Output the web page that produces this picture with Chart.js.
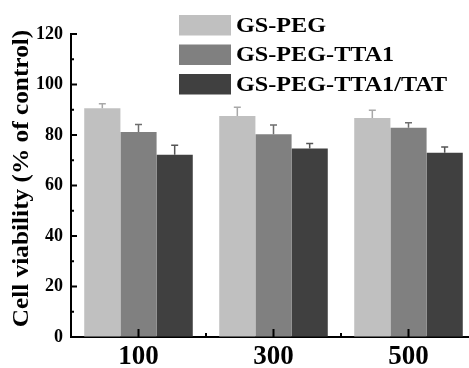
<!DOCTYPE html>
<html>
<head>
<meta charset="utf-8">
<script src="https://cdn.jsdelivr.net/npm/chart.js@4/dist/chart.umd.min.js"></script>
<style>
    html, body { margin: 0; padding: 0; background: #fff; overflow: hidden; }
    #wrap { width: 477px; height: 368px; }
</style>
</head>
<body>
<div id="wrap"><canvas id="viabilityChart" width="477" height="368"></canvas></div>
<script>
// Chart data
const concentrations = ['100', '300', '500'];
const seriesNames = ['GS-PEG', 'GS-PEG-TTA1', 'GS-PEG-TTA1/TAT'];
const gsPeg = [90.6, 87.5, 86.7];
const gsPegTta1 = [81.2, 80.3, 82.9];
const gsPegTta1Tat = [72.2, 74.7, 73.0];
const gsPegErr = [1.8, 3.5, 3.1];
const gsPegTta1Err = [3.0, 3.7, 2.0];
const gsPegTta1TatErr = [3.7, 1.9, 2.2];
const yTicks = [0, 20, 40, 60, 80, 100, 120];
const yTitle = 'Cell viability (% of control)';

const barColors = ['#c0c0c0', '#808080', '#404040'];
const errColors = ['#a8a8a8', '#6e6e6e', '#555555'];
const serif = '"Liberation Serif", "Times New Roman", serif';

/**
 * Upward-only error bars with small caps
 */
const errorBarPlugin = {
    id: 'errorBars',
    afterDatasetsDraw(chart) {
        const ctx = chart.ctx;
        const yScale = chart.scales.y;
        chart.data.datasets.forEach((ds, i) => {
            const meta = chart.getDatasetMeta(i);
            meta.data.forEach((bar, j) => {
                const top = yScale.getPixelForValue(ds.data[j] + ds.errors[j]);
                ctx.save();
                ctx.strokeStyle = errColors[i];
                ctx.lineWidth = 1.5;
                ctx.beginPath();
                ctx.moveTo(bar.x, bar.y);
                ctx.lineTo(bar.x, top);
                ctx.moveTo(bar.x - 3.5, top);
                ctx.lineTo(bar.x + 3.5, top);
                ctx.stroke();
                ctx.restore();
            });
        });
    }
};

/**
 * Inward tick marks (major + minor) on both axes, plus the y title
 */
const innerTicksPlugin = {
    id: 'innerTicks',
    afterDraw(chart) {
        const ctx = chart.ctx;
        const x = chart.scales.x;
        const y = chart.scales.y;
        const area = chart.chartArea;
        ctx.save();
        ctx.strokeStyle = '#000';
        ctx.lineWidth = 2;
        ctx.beginPath();
        for (let v = 0; v <= 120; v += 10) {
            const py = y.getPixelForValue(v);
            const len = v % 20 === 0 ? 6 : 3;
            ctx.moveTo(area.left, py);
            ctx.lineTo(area.left + len, py);
        }
        concentrations.forEach((c, i) => {
            const px = x.getPixelForValue(i);
            ctx.moveTo(px, area.bottom);
            ctx.lineTo(px, area.bottom - 8);
            if (i > 0) {
                const mx = (px + x.getPixelForValue(i - 1)) / 2;
                ctx.moveTo(mx, area.bottom);
                ctx.lineTo(mx, area.bottom - 4);
            }
        });
        ctx.stroke();

        // rotated axis title, a little stretched like the original figure
        ctx.translate(22, 178.5);
        ctx.rotate(-Math.PI / 2);
        ctx.scale(1.1, 1);
        ctx.font = 'bold 23px ' + serif;
        ctx.fillStyle = '#000';
        ctx.textAlign = 'center';
        ctx.textBaseline = 'middle';
        ctx.fillText(yTitle, 0, 0);
        ctx.restore();
    }
};

/**
 * Legend drawn in the upper part of the plot
 */
const boxLegendPlugin = {
    id: 'boxLegend',
    afterDraw(chart) {
        const ctx = chart.ctx;
        chart.data.datasets.forEach((ds, i) => {
            const top = 15 + i * 29.5;
            ctx.save();
            ctx.fillStyle = barColors[i];
            ctx.fillRect(179, top, 52, 20.5);
            ctx.translate(236, top + 11);
            ctx.scale(1.1, 1);
            ctx.font = 'bold 22px ' + serif;
            ctx.textBaseline = 'middle';
            ctx.textAlign = 'left';
            ctx.fillStyle = '#000';
            ctx.fillText(ds.label, 0, 0);
            ctx.restore();
        });
    }
};

document.addEventListener('DOMContentLoaded', function() {
    const chartElement = document.getElementById('viabilityChart');
    const values = [gsPeg, gsPegTta1, gsPegTta1Tat];
    const errors = [gsPegErr, gsPegTta1Err, gsPegTta1TatErr];

    new Chart(chartElement, {
        type: 'bar',
        data: {
            labels: concentrations,
            datasets: seriesNames.map((name, i) => ({
                label: name,
                data: values[i],
                errors: errors[i],
                backgroundColor: barColors[i],
                borderWidth: 0
            }))
        },
        options: {
            responsive: false,
            animation: false,
            events: [],
            barPercentage: 1,
            categoryPercentage: 0.804,
            layout: { padding: { top: 34, right: 1, left: 0, bottom: 0 } },
            plugins: {
                legend: { display: false },
                tooltip: { enabled: false }
            },
            scales: {
                x: {
                    grid: { display: true, drawOnChartArea: false, drawTicks: false },
                    border: { color: '#000', width: 2 },
                    ticks: {
                        color: '#000',
                        padding: 4,
                        font: { family: serif, size: 27, weight: 'bold' }
                    },
                    afterFit(scale) { scale.height = 31; }
                },
                y: {
                    min: 0,
                    max: 120,
                    afterBuildTicks(scale) {
                        scale.ticks = yTicks.map(v => ({ value: v }));
                    },
                    grid: { display: true, drawOnChartArea: false, drawTicks: false },
                    border: { color: '#000', width: 2 },
                    ticks: {
                        color: '#000',
                        padding: 8,
                        font: { family: serif, size: 18, weight: 'bold' }
                    },
                    afterFit(scale) { scale.width = 71; }
                }
            }
        },
        plugins: [errorBarPlugin, innerTicksPlugin, boxLegendPlugin]
    });
});
</script>
</body>
</html>
